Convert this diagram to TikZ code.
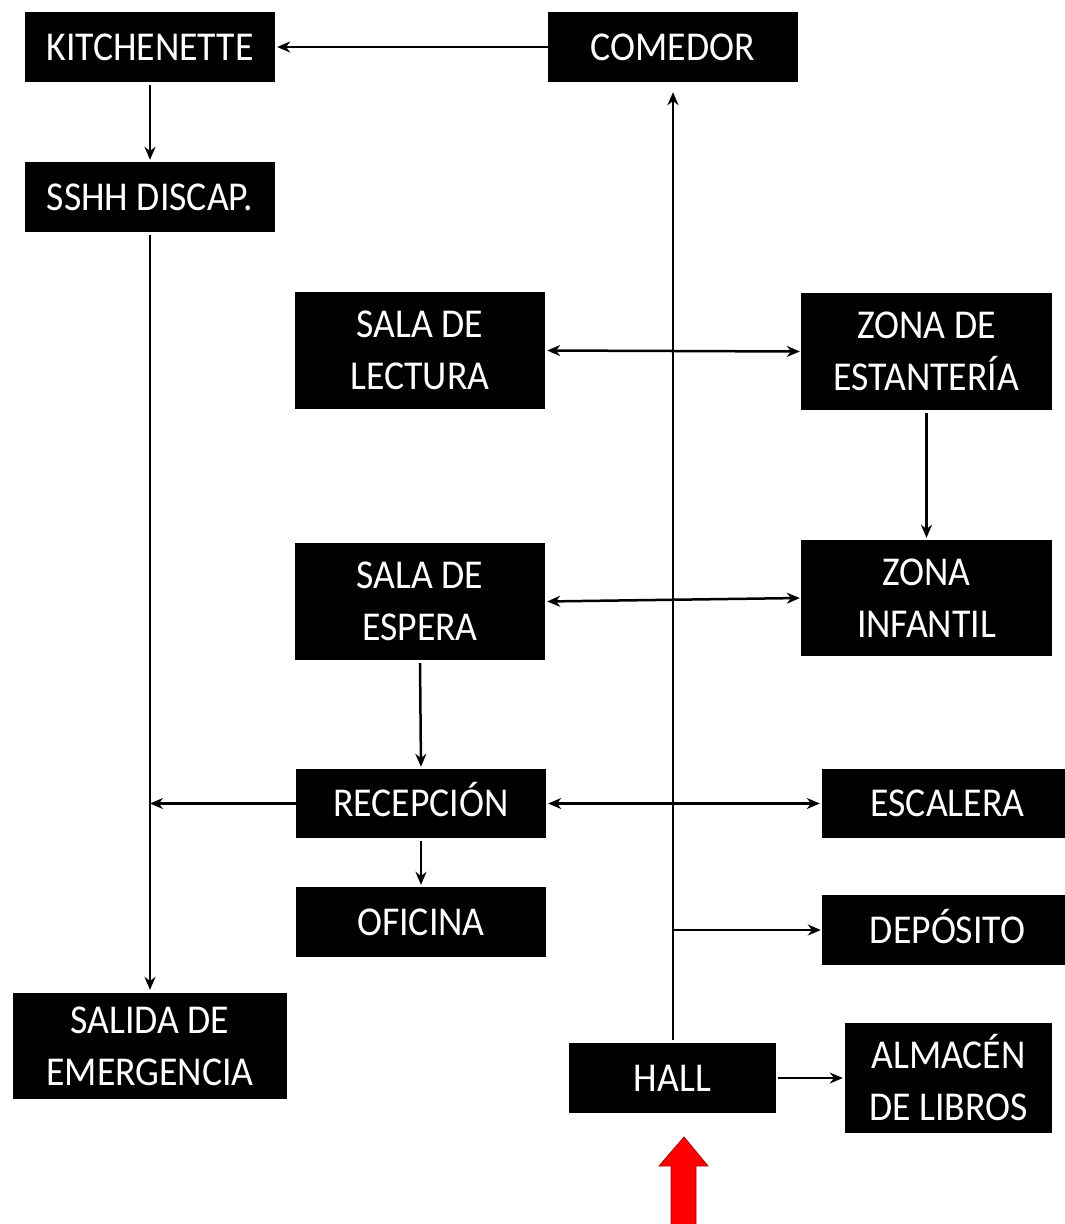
\documentclass[tikz,border=0pt]{standalone}
\usepackage{fontspec}
\setmainfont{Carlito}[FakeStretch=0.92]
\usetikzlibrary{arrows.meta,calc}
\begin{document}
\begin{tikzpicture}[x=1pt,y=-1pt,
  room/.style={fill=black,text=white,inner sep=0pt,anchor=center,align=center,
    font=\fontsize{41}{52}\selectfont},
  one/.style={text height=26.4pt,text depth=0pt},
  conn/.style={line width=2.5pt,-{Stealth[length=13pt,width=11pt]}},
  biconn/.style={line width=2.5pt,{Stealth[length=13pt,width=11pt]}-{Stealth[length=13pt,width=11pt]}}]
\useasboundingbox (0,0) rectangle (1065,1224);
\node[room,one,minimum width=250,minimum height=70] (kit) at (150,47) {KITCHENETTE};
\node[room,one,minimum width=250,minimum height=70] (com) at (673,47) {COMEDOR};
\node[room,one,minimum width=250,minimum height=70] (ssh) at (150,197) {SSHH DISCAP.};
\node[room,minimum width=250,minimum height=117] (lec) at (420,350.5) {SALA DE\\LECTURA};
\node[room,minimum width=251,minimum height=117] (est) at (926.5,351.5) {ZONA DE\\ESTANTERÍA};
\node[room,minimum width=250,minimum height=117] (esp) at (420,601.5) {SALA DE\\ESPERA};
\node[room,minimum width=251,minimum height=116] (inf) at (926.5,598) {ZONA\\INFANTIL};
\node[room,one,minimum width=250,minimum height=69] (rec) at (421,803.5) {RECEPCIÓN};
\node[room,one,minimum width=243,minimum height=69] (esc) at (943.5,803.5) {\hspace*{8pt}ESCALERA};
\node[room,one,minimum width=250,minimum height=70] (ofi) at (421,922) {OFICINA};
\node[room,one,minimum width=243,minimum height=70] (dep) at (943.5,930) {\hspace*{8pt}DEPÓSITO};
\node[room,minimum width=274,minimum height=106] (sal) at (150,1046) {SALIDA DE\\EMERGENCIA};
\node[room,one,minimum width=207,minimum height=70] (hall) at (672.5,1078) {HALL};
\node[room,minimum width=207,minimum height=110] (alm) at (948.5,1078) {ALMACÉN\\DE LIBROS};
% connectors
\draw[conn,shorten >=2pt] (com.west) -- (kit.east);
\draw[conn,shorten <=3pt,shorten >=2pt] (kit.south) -- (ssh.north);
\draw[conn,shorten <=3pt,shorten >=3pt] (ssh.south) -- (sal.north);
\draw[conn] (rec.west) -- (rec.west -| ssh.south);
\draw[conn,shorten <=3pt,shorten >=10pt] (hall.north -| com.south) -- (com.south);
\draw[biconn,shorten <=2pt,shorten >=1pt] (lec.east) -- (est.west);
\draw[conn,shorten <=3pt,shorten >=2pt] (est.south) -- (inf.north);
\draw[biconn,shorten <=2pt,shorten >=1pt] (esp.east) -- (inf.west);
\draw[conn,shorten <=3pt,shorten >=2pt] (esp.south) -- (rec.north);
\draw[biconn,shorten <=2pt,shorten >=2pt] (rec.east) -- (esc.west);
\draw[conn,shorten <=3pt,shorten >=2pt] (rec.south) -- (ofi.north);
\coordinate (j) at (com.south |- dep.west);
\draw[conn,shorten >=1pt] (j) -- (dep.west);
\draw[conn,shorten <=2pt,shorten >=2pt] (hall.east) -- (alm.west);
% red entrance arrow
\fill[red,draw=red!70!black,line width=0.8pt] (671,1224) -- (671,1166) -- (659,1166) -- (684,1137) -- (708,1166) -- (696,1166) -- (696,1224);
\end{tikzpicture}
\end{document}
